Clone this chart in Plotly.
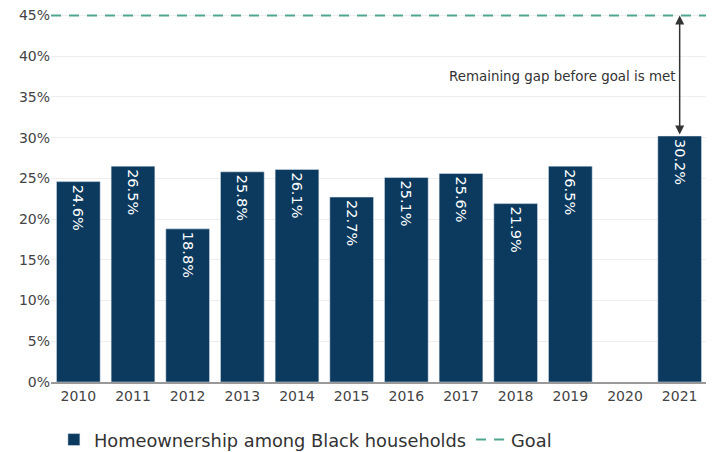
import plotly.graph_objects as go

years = ["2010", "2011", "2012", "2013", "2014", "2015", "2016", "2017", "2018", "2019", "2020", "2021"]
values = [24.6, 26.5, 18.8, 25.8, 26.1, 22.7, 25.1, 25.6, 21.9, 26.5, None, 30.2]
labels = ["24.6%", "26.5%", "18.8%", "25.8%", "26.1%", "22.7%", "25.1%", "25.6%", "21.9%", "26.5%", "", "30.2%"]
goal = 45
series_name = "Homeownership among Black households"
goal_name = "Goal"
gap_text = "Remaining gap before goal is met"

font_family = "DejaVu Sans, Verdana, sans-serif"

fig = go.Figure()
fig.add_trace(go.Bar(
    x=years, y=values, name=series_name,
    marker=dict(color="#0b3a5e"),
    text=labels, textposition="inside", insidetextanchor="end",
    textangle=90, textfont=dict(color="white", size=14.5, family=font_family),
))

fig.add_trace(go.Scatter(
    x=[0, 1], y=[goal, goal], xaxis="x2", mode="lines", name=goal_name,
    line=dict(color="#4fa58f", width=2, dash="10px,8px"), hoverinfo="skip",
))

last_idx = len(years) - 1
fig.add_annotation(x=last_idx, y=goal, ax=last_idx, ay=values[-1], xref="x", yref="y",
                   axref="x", ayref="y", showarrow=True, arrowhead=2, arrowside="end+start",
                   arrowsize=1.2, arrowwidth=1.5, arrowcolor="#333333", text="")
fig.add_annotation(x=last_idx, y=37.5, xref="x", yref="y", xshift=-2, xanchor="right",
                   showarrow=False, text=gap_text,
                   font=dict(size=13.4, color="#333333", family=font_family))

fig.update_layout(
    width=706, height=444,
    margin=dict(l=43, r=7, t=5, b=70, autoexpand=False),
    plot_bgcolor="white", paper_bgcolor="white",
    bargap=0.2,
    font=dict(family=font_family, color="#444444", size=14),
    legend=dict(orientation="h", x=0.065, xref="container", y=0.027, yref="container",
                xanchor="left", yanchor="middle",
                font=dict(size=17.8, color="#333333"), traceorder="normal"),
    showlegend=True,
    xaxis=dict(type="category", showline=True, linecolor="#999999",
               linewidth=1.5, ticks="", tickfont=dict(size=14, color="#444444")),
    xaxis2=dict(overlaying="x", range=[0, 1], visible=False, fixedrange=True),
    yaxis=dict(range=[0, 45.3], tick0=0, dtick=5, ticksuffix="%", showgrid=True,
               gridcolor="#eeeeee", zeroline=False, ticklabeloverflow="allow",
               tickfont=dict(size=14, color="#444444")),
)

fig.write_html("out.html")
